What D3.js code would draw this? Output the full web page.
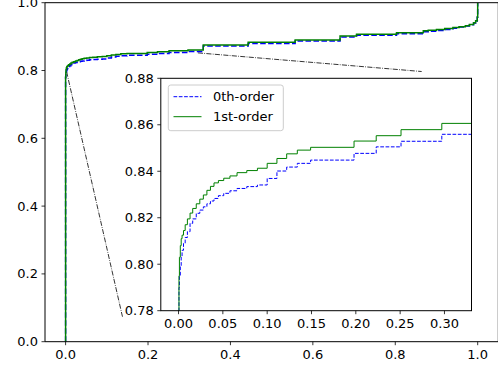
<!DOCTYPE html>
<html><head><meta charset="utf-8">
<script src="https://cdn.jsdelivr.net/npm/d3@7/dist/d3.min.js"></script>
<style>html,body{margin:0;padding:0;background:#fff;}svg{display:block;}text{font-family:"DejaVu Sans",sans-serif;}</style>
</head><body>
<script>
// ---- data ----
const cdfX = [0, 0, 0.0005, 0.001, 0.002, 0.003, 0.004, 0.0056, 0.0075, 0.010, 0.013, 0.016, 0.020, 0.024, 0.028, 0.032, 0.036, 0.040, 0.045, 0.051, 0.058, 0.066, 0.077, 0.089, 0.100, 0.111, 0.122, 0.134, 0.149, 0.198, 0.223, 0.251, 0.297, 0.334, 0.443, 0.557, 0.666, 0.706, 0.803, 0.868, 0.88, 0.90, 0.92, 0.94, 0.955, 0.97, 0.98, 0.99, 0.995, 0.999, 1.0];
const zerothOrder = [0, 0.780, 0.790, 0.795, 0.799, 0.803, 0.806, 0.809, 0.8115, 0.814, 0.8176, 0.8195, 0.8219, 0.8233, 0.8247, 0.826, 0.8272, 0.8283, 0.8295, 0.8305, 0.8316, 0.8326, 0.8334, 0.8341, 0.8369, 0.8401, 0.8418, 0.8434, 0.8448, 0.8477, 0.8505, 0.8529, 0.8559, 0.872, 0.880, 0.887, 0.899, 0.904, 0.9085, 0.914, 0.916, 0.918, 0.921, 0.925, 0.928, 0.931, 0.935, 0.940, 0.946, 0.957, 1.0];
const firstOrder = [0, 0.780, 0.795, 0.803, 0.808, 0.811, 0.8125, 0.8145, 0.817, 0.8195, 0.822, 0.824, 0.826, 0.828, 0.8298, 0.8318, 0.8335, 0.835, 0.836, 0.837, 0.838, 0.8394, 0.8403, 0.8413, 0.8434, 0.8455, 0.8475, 0.8491, 0.8503, 0.8530, 0.8553, 0.8579, 0.8606, 0.8755, 0.883, 0.890, 0.902, 0.907, 0.9115, 0.9174, 0.919, 0.921, 0.924, 0.927, 0.929, 0.932, 0.936, 0.941, 0.947, 0.958, 1.0];
const seriesNames = ["0th-order", "1st-order"];
const mainXTicks = [0, 0.2, 0.4, 0.6, 0.8, 1.0];
const mainYTicks = [0, 0.2, 0.4, 0.6, 0.8, 1.0];
const insetXTicks = [0, 0.05, 0.10, 0.15, 0.20, 0.25, 0.30];
const insetYTicks = [0.78, 0.80, 0.82, 0.84, 0.86, 0.88];
const connector1 = [[0.0024, 0.7965], [0.138, 0.0737]];
const connector2 = [[0.321, 0.852], [0.864, 0.797]];

// ---- layout ----
const W = 498, H = 370;
const svg = d3.select("body").append("svg").attr("width", W).attr("height", H);
const M = {l: 45, r: 498.3, t: 2.7, b: 341.7};
const I = {l: 160.8, r: 471.5, t: 78.3, b: 310.7};
const FS = 13;

const x = d3.scaleLinear().domain([-0.05, 1.05]).range([M.l, M.r]);
const y = d3.scaleLinear().domain([0, 1.0]).range([M.b, M.t]);
const xi = d3.scaleLinear().domain([-0.02, 0.3305]).range([I.l, I.r]);
const yi = d3.scaleLinear().domain([0.78, 0.88]).range([I.b, I.t]);

const defs = svg.append("defs");
defs.append("clipPath").attr("id", "cm").append("rect")
  .attr("x", M.l).attr("y", M.t).attr("width", M.r - M.l).attr("height", M.b - M.t);
defs.append("clipPath").attr("id", "ci").append("rect")
  .attr("x", I.l).attr("y", I.t).attr("width", I.r - I.l).attr("height", I.b - I.t);

const blueData = cdfX.map((v, i) => [v, zerothOrder[i]]);
const greenData = cdfX.map((v, i) => [v, firstOrder[i]]);

// ---- main axes ----
const gm = svg.append("g").attr("clip-path", "url(#cm)");
const lineM = d3.line().x(d => x(d[0])).y(d => y(d[1])).curve(d3.curveStepAfter);
const connLine = d3.line().x(d => x(d[0])).y(d => y(d[1]));
[connector1, connector2].forEach(c => {
  gm.append("path").attr("d", connLine(c)).attr("fill", "none")
    .attr("stroke", "#000").attr("stroke-width", 0.8)
    .attr("stroke-dasharray", "5.1,1.3,0.8,1.3");
});
gm.append("path").attr("d", lineM(blueData)).attr("fill", "none")
  .attr("stroke", "#0000ff").attr("stroke-width", 1.5).attr("stroke-dasharray", "5.55,2.4");
gm.append("path").attr("d", lineM(greenData)).attr("fill", "none")
  .attr("stroke", "#008000").attr("stroke-width", 1.5);

const ax = svg.append("g");
ax.append("line").attr("x1", M.l).attr("x2", M.l).attr("y1", M.t).attr("y2", M.b).attr("stroke", "#000").attr("stroke-width", 1);
ax.append("line").attr("x1", M.l).attr("x2", M.r).attr("y1", M.b).attr("y2", M.b).attr("stroke", "#000").attr("stroke-width", 1);
ax.append("line").attr("x1", M.l).attr("x2", M.r).attr("y1", M.t).attr("y2", M.t).attr("stroke", "#000").attr("stroke-width", 1);
ax.append("line").attr("x1", M.r).attr("x2", M.r).attr("y1", M.t).attr("y2", M.b).attr("stroke", "#000").attr("stroke-width", 1);

mainXTicks.forEach(t => {
  ax.append("line").attr("x1", x(t)).attr("x2", x(t)).attr("y1", M.b).attr("y2", M.b + 3.5).attr("stroke", "#000").attr("stroke-width", 0.8);
  ax.append("text").attr("x", x(t)).attr("y", M.b + 7).attr("dy", "0.8em").attr("text-anchor", "middle")
    .attr("font-size", FS).text(d3.format(".1f")(t));
});
mainYTicks.forEach(t => {
  ax.append("line").attr("x1", M.l - 3.5).attr("x2", M.l).attr("y1", y(t)).attr("y2", y(t)).attr("stroke", "#000").attr("stroke-width", 0.8);
  ax.append("text").attr("x", M.l - 7).attr("y", y(t)).attr("dy", "0.35em").attr("text-anchor", "end")
    .attr("font-size", FS).text(d3.format(".1f")(t));
});

// ---- inset ----
svg.append("rect").attr("x", I.l).attr("y", I.t).attr("width", I.r - I.l).attr("height", I.b - I.t).attr("fill", "#fff");
const gi = svg.append("g").attr("clip-path", "url(#ci)");
const lineI = d3.line().x(d => xi(d[0])).y(d => yi(d[1])).curve(d3.curveStepAfter);
gi.append("path").attr("d", lineI(blueData)).attr("fill", "none")
  .attr("stroke", "#0000ff").attr("stroke-width", 1).attr("stroke-dasharray", "3.7,1.6");
gi.append("path").attr("d", lineI(greenData)).attr("fill", "none")
  .attr("stroke", "#008000").attr("stroke-width", 1);

const axi = svg.append("g");
axi.append("rect").attr("x", I.l).attr("y", I.t).attr("width", I.r - I.l).attr("height", I.b - I.t)
  .attr("fill", "none").attr("stroke", "#000").attr("stroke-width", 1);
insetXTicks.forEach(t => {
  axi.append("line").attr("x1", xi(t)).attr("x2", xi(t)).attr("y1", I.b).attr("y2", I.b + 3.5).attr("stroke", "#000").attr("stroke-width", 0.8);
  axi.append("text").attr("x", xi(t)).attr("y", I.b + 7).attr("dy", "0.8em").attr("text-anchor", "middle")
    .attr("font-size", FS).text(d3.format(".2f")(t));
});
insetYTicks.forEach(t => {
  axi.append("line").attr("x1", I.l - 3.5).attr("x2", I.l).attr("y1", yi(t)).attr("y2", yi(t)).attr("stroke", "#000").attr("stroke-width", 0.8);
  axi.append("text").attr("x", I.l - 7).attr("y", yi(t)).attr("dy", "0.35em").attr("text-anchor", "end")
    .attr("font-size", FS).text(d3.format(".2f")(t));
});

// ---- legend ----
const lg = svg.append("g");
lg.append("rect").attr("x", 168.3).attr("y", 85).attr("width", 115).attr("height", 45.7)
  .attr("rx", 2.5).attr("fill", "#fff").attr("fill-opacity", 0.8).attr("stroke", "#cccccc").attr("stroke-width", 1);
const legendStyles = [{c: "#0000ff", dash: "3.7,1.6"}, {c: "#008000", dash: null}];
seriesNames.forEach((n, i) => {
  const yy = 96.7 + i * 20;
  const l = lg.append("line").attr("x1", 173.5).attr("x2", 201.5).attr("y1", yy).attr("y2", yy)
    .attr("stroke", legendStyles[i].c).attr("stroke-width", 1);
  if (legendStyles[i].dash) l.attr("stroke-dasharray", legendStyles[i].dash);
  lg.append("text").attr("x", 213).attr("y", yy).attr("dy", "0.35em").attr("font-size", FS).text(n);
});
</script>
</body></html>
